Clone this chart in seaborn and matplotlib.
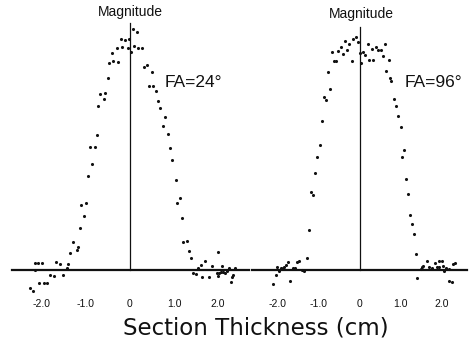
import matplotlib
matplotlib.use("Agg")
import matplotlib.pyplot as plt
import seaborn as sns
import pandas as pd

# ---- data ----
fa24_x = [0.075, 0.159, -0.211, -0.114, -0.016, -0.302, -0.182, -0.052, 0.016, 0.098,
          0.189, 0.280, -0.416, -0.477, -0.380, -0.273, 0.318, 0.386, 0.507, -0.507,
          0.432, 0.530, 0.598, -0.675, -0.561, -0.584, 0.643, -0.720, 0.689, 0.802,
          0.750, -0.750, 0.864, -0.916, -0.802, 0.909, -0.864, 0.955, -0.948, 1.039,
          1.136, 1.061, -1.120, -0.993, -1.045, 1.182, -1.143, -1.302, 1.211, 1.302,
          -1.182, -1.211, -1.364, 1.348, 1.391, -1.682, -1.591, -1.402, -1.425, -2.159,
          -2.080, -2.000, -2.170, -1.818, -1.727, -1.516, -2.057, -1.966, -1.886, -2.284,
          -2.216, 2.007, 1.698, 1.607, 1.552, 1.857, 2.084, 2.257, 2.386, 1.439,
          1.500, 1.630, 1.802, 1.970, 2.030, 2.068, 2.120, 2.000, 2.159, 2.211,
          2.348, 2.311, 2.289]
fa24_y = [1.003, 0.992, 0.963, 0.958, 0.961, 0.926, 0.930, 0.926, 0.907, 0.935,
          0.926, 0.926, 0.905, 0.861, 0.872, 0.867, 0.847, 0.854, 0.825, 0.800,
          0.768, 0.768, 0.745, 0.733, 0.738, 0.714, 0.705, 0.683, 0.676, 0.639,
          0.600, 0.561, 0.565, 0.513, 0.513, 0.510, 0.440, 0.460, 0.393, 0.376,
          0.301, 0.278, 0.271, 0.279, 0.224, 0.218, 0.175, 0.115, 0.115, 0.122,
          0.094, 0.083, 0.069, 0.081, 0.049, 0.035, 0.024, 0.024, 0.007, 0.029,
          0.029, 0.029, 0.002, -0.021, -0.023, -0.022, -0.055, -0.055, -0.053, -0.076,
          -0.088, 0.076, 0.038, 0.021, 0.007, 0.018, 0.018, 0.010, 0.007, -0.014,
          -0.017, -0.028, -0.028, -0.014, -0.011, -0.007, -0.010, -0.024, -0.014, -0.004,
          -0.021, -0.030, -0.049]

fa96_x = [-0.093, -0.151, -0.044, -0.354, -0.249, -0.451, -0.298, -0.517, -0.663, -0.410,
          0.200, 0.615, 0.402, 0.459, 0.517, 0.312, 0.093, 0.012, 0.134, 0.566,
          -0.629, -0.566, -0.190, 0.029, 0.224, 0.337, 0.712, -0.761, 0.639, 0.737,
          0.776, -0.712, -0.866, -0.817, 0.849, 0.898, -0.922, 0.946, 1.005, -0.971,
          1.093, -1.044, 1.044, -1.085, 1.141, 1.190, -1.190, -1.134, 1.232, 1.288,
          -1.232, 1.329, 1.371, -1.273, -1.468, -1.532, -1.751, -1.793, -1.834, -1.873,
          -2.020, -1.629, -1.573, -1.410, -1.354, -1.956, -2.037, -1.695, -2.117, -1.922,
          1.410, 1.639, 1.556, 1.517, 1.493, 1.695, 1.841, 1.946, 2.005, 1.883,
          1.946, 2.029, 2.110, 2.288, 2.329, 2.190, 2.190, 1.761, 2.061, 2.249]
fa96_y = [0.970, 0.961, 0.950, 0.953, 0.940, 0.930, 0.917, 0.914, 0.910, 0.900,
          0.940, 0.940, 0.928, 0.917, 0.917, 0.920, 0.910, 0.903, 0.896, 0.892,
          0.870, 0.870, 0.872, 0.864, 0.875, 0.875, 0.875, 0.824, 0.830, 0.800,
          0.788, 0.753, 0.722, 0.708, 0.714, 0.685, 0.620, 0.640, 0.595, 0.520,
          0.499, 0.472, 0.470, 0.403, 0.378, 0.318, 0.326, 0.311, 0.229, 0.193,
          0.167, 0.151, 0.067, 0.049, 0.038, 0.032, 0.032, 0.021, 0.014, 0.007,
          0.011, 0.010, 0.007, 0.000, -0.003, -0.004, -0.021, -0.045, -0.060, 0.007,
          -0.035, 0.038, 0.018, 0.011, 0.003, 0.014, 0.028, 0.038, 0.038, 0.014,
          0.014, 0.018, 0.007, 0.025, 0.030, 0.003, -0.045, 0.007, -0.003, -0.049]

tick_values = [-2.0, -1.0, 0.0, 1.0, 2.0]
tick_labels = ["-2.0", "-1.0", "0", "1.0", "2.0"]
panel_titles = ["Magnitude", "Magnitude"]
panel_notes = ["FA=24°", "FA=96°"]
x_label = "Section Thickness (cm)"

# ---- figure ----
sns.set_theme(style="white")
plt.rcParams["font.family"] = ["Liberation Sans", "DejaVu Sans"]

W, H = 470, 342
fig = plt.figure(figsize=(W / 100, H / 100), dpi=100)
fig.patch.set_facecolor("white")

def px_axes(x0, x1, y_top, y_bot):
    return fig.add_axes([x0 / W, 1 - y_bot / H, (x1 - x0) / W, (y_bot - y_top) / H])

ylim = (-0.125, 1.029)
panels = [
    dict(rect=(12, 249, 23, 300), xlim=(-2.682, 2.705), x=fa24_x, y=fa24_y,
         ytop=1.029, title=panel_titles[0], title_xy=(0.0, 1.075),
         note=panel_notes[0], note_xy=(0.795, 0.783)),
    dict(rect=(252, 467, 23, 300), xlim=(-2.622, 2.622), x=fa96_x, y=fa96_y,
         ytop=1.0125, title=panel_titles[1], title_xy=(0.04, 1.067),
         note=panel_notes[1], note_xy=(1.11, 0.783)),
]

for p in panels:
    ax = px_axes(*p["rect"])
    df = pd.DataFrame({"x": p["x"], "y": p["y"]})
    sns.scatterplot(data=df, x="x", y="y", ax=ax, s=5, color="#111111",
                    linewidth=0, legend=False)
    ax.set_xlim(*p["xlim"])
    ax.set_ylim(*ylim)
    ax.set_facecolor("none")
    for s in ("top", "right"):
        ax.spines[s].set_visible(False)
    ax.spines["bottom"].set_position(("data", 0))
    ax.spines["bottom"].set_linewidth(1.6)
    ax.spines["bottom"].set_color("#111111")
    ax.spines["left"].set_position(("data", 0))
    ax.spines["left"].set_bounds(0, p["ytop"])
    ax.spines["left"].set_linewidth(0.9)
    ax.spines["left"].set_color("#111111")
    ax.set_yticks([])
    ax.set_xticks(tick_values)
    ax.set_xticklabels(tick_labels)
    ax.tick_params(axis="x", direction="out", length=4, width=1.0, color="#111111",
                   pad=17, labelsize=7.5, labelcolor="#111111")
    ax.set_xlabel("")
    ax.set_ylabel("")
    ax.text(p["title_xy"][0], p["title_xy"][1], p["title"], ha="center", va="center",
            fontsize=10, color="#111111", clip_on=False)
    ax.text(p["note_xy"][0], p["note_xy"][1], p["note"], ha="left", va="center",
            fontsize=12.5, color="#111111")

fig.text(255.5 / W, 1 - 328 / H, x_label, ha="center", va="center",
         fontsize=16.5, color="#111111", family=["DejaVu Sans"])

fig.savefig("out.png", dpi=100, facecolor="white")
